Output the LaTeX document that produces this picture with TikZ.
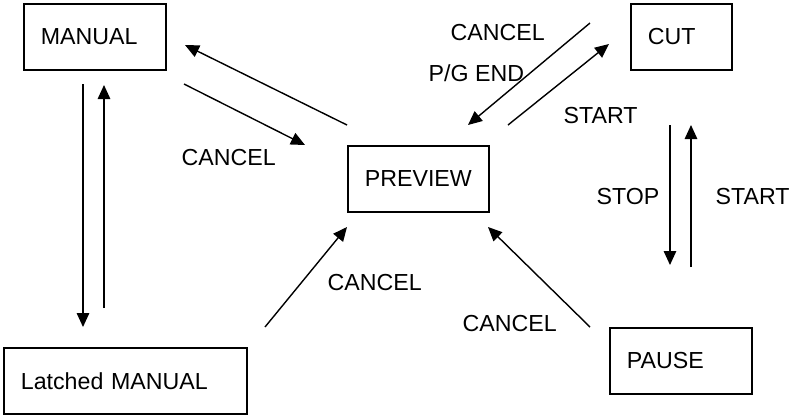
\documentclass[tikz,border=0pt]{standalone}
\usepackage{fontspec}
\setmainfont{Liberation Sans}
\usepackage{tikz}
\usetikzlibrary{arrows.meta, positioning, calc}

\begin{document}
\begin{tikzpicture}[state/.style={draw,line width=0.5pt,inner xsep=0.17cm,inner ysep=0pt,minimum height=0.66cm,align=left,anchor=north west},
    tag/.style={inner sep=0pt,anchor=base west},
    flow/.style={line width=0.4pt,-{Triangle[length=0.14cm,width=0.125cm]}},
    every node/.append style={font=\fontsize{6.6}{8}\selectfont}]
        \useasboundingbox (0,0) rectangle (7.9,-4.15);
        % states
        \node[state,text width=1.08cm] (manual) at (0.23,-0.03) {MANUAL};
        \node[state,text width=0.67cm] (cut) at (6.30,-0.03) {CUT};
        \node[state,text width=1.07cm] (preview) at (3.47,-1.45) {PREVIEW};
        \node[state,text width=2.09cm] (latched) at (0.03,-3.47) {Latched MANUAL};
        \node[state,text width=1.08cm] (pause) at (6.09,-3.27) {PAUSE};
        % arrow ends
        \coordinate (pm1) at (3.47,-1.25);
        \coordinate (pm2) at (1.85,-0.45);
        \coordinate (mp1) at (1.84,-0.84);
        \coordinate (mp2) at (3.05,-1.45);
        \coordinate (ml1) at (0.83,-0.84);
        \coordinate (ml2) at (0.83,-3.27);
        \coordinate (lm1) at (1.04,-3.08);
        \coordinate (lm2) at (1.04,-0.85);
        \coordinate (lp1) at (2.65,-3.27);
        \coordinate (lp2) at (3.47,-2.27);
        \coordinate (ap1) at (5.90,-3.27);
        \coordinate (ap2) at (4.88,-2.27);
        \coordinate (cp1) at (5.90,-0.23);
        \coordinate (cp2) at (4.68,-1.25);
        \coordinate (pc1) at (5.08,-1.25);
        \coordinate (pc2) at (6.09,-0.44);
        \coordinate (ca1) at (6.70,-1.25);
        \coordinate (ca2) at (6.70,-2.65);
        \coordinate (ac1) at (6.91,-2.67);
        \coordinate (ac2) at (6.91,-1.25);
        % transitions
        \draw[flow] (pm1) -- (pm2);
        \draw[flow] (mp1) -- (mp2);
        \draw[flow] (ml1) -- (ml2);
        \draw[flow] (lm1) -- (lm2);
        \draw[flow] (lp1) -- (lp2);
        \draw[flow] (ap1) -- (ap2);
        \draw[flow] (cp1) -- (cp2);
        \draw[flow] (pc1) -- (pc2);
        \draw[flow] (ca1) -- (ca2);
        \draw[flow] (ac1) -- (ac2);
        % labels
        \node[tag] (lcancel1) at (1.81,-1.65) {CANCEL};
        \node[tag] (lcancel2) at (4.50,-0.40) {CANCEL};
        \node[tag] (lpgend) at (4.28,-0.81) {P/G END};
        \node[tag] (lstart1) at (5.63,-1.23) {START};
        \node[tag] (lstop) at (5.96,-2.04) {STOP};
        \node[tag] (lstart2) at (7.15,-2.04) {START};
        \node[tag] (lcancel3) at (3.27,-2.90) {CANCEL};
        \node[tag] (lcancel4) at (4.62,-3.31) {CANCEL};
    \end{tikzpicture}
\end{document}
